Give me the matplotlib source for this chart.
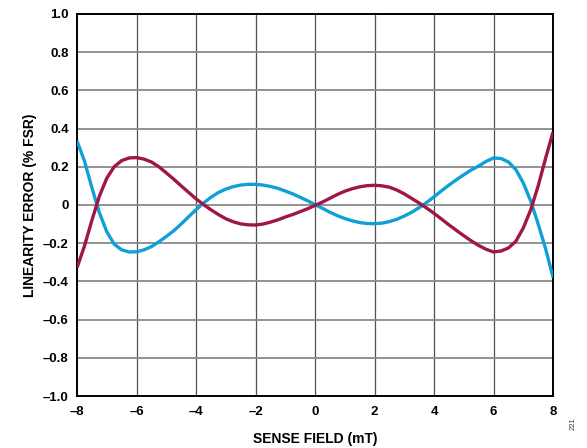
import matplotlib
matplotlib.use("Agg")
import matplotlib.pyplot as plt

plt.rcParams['font.family'] = ['Liberation Sans', 'DejaVu Sans']

# Sense field (mT)
field = [-8.0, -7.75, -7.5, -7.25, -7.0, -6.75, -6.5, -6.25, -6.0, -5.75, -5.5, -5.25,
         -5.0, -4.75, -4.5, -4.25, -4.0, -3.75, -3.5, -3.25, -3.0, -2.75, -2.5, -2.25,
         -2.0, -1.75, -1.5, -1.25, -1.0, -0.75, -0.5, -0.25, 0.0, 0.25, 0.5, 0.75,
         1.0, 1.25, 1.5, 1.75, 2.0, 2.25, 2.5, 2.75, 3.0, 3.25, 3.5, 3.75,
         4.0, 4.25, 4.5, 4.75, 5.0, 5.25, 5.5, 5.75, 6.0, 6.25, 6.5, 6.75,
         7.0, 7.25, 7.5, 7.75, 8.0]

# Linearity error, blue curve (% FSR)
blue_err = [0.335, 0.23, 0.09, -0.04, -0.14, -0.205, -0.235, -0.246, -0.245, -0.235, -0.218, -0.193,
            -0.165, -0.135, -0.1, -0.062, -0.025, 0.01, 0.04, 0.065, 0.083, 0.096, 0.104, 0.108,
            0.108, 0.104, 0.097, 0.087, 0.073, 0.058, 0.04, 0.022, 0.002, -0.018, -0.038, -0.056,
            -0.071, -0.083, -0.092, -0.097, -0.098, -0.095, -0.087, -0.075, -0.058, -0.038, -0.014, 0.013,
            0.043, 0.074, 0.104, 0.132, 0.158, 0.183, 0.204, 0.228, 0.246, 0.243, 0.225, 0.185,
            0.115, 0.02, -0.1, -0.23, -0.38]

# Linearity error, maroon curve (% FSR)
red_err = [-0.328, -0.215, -0.08, 0.045, 0.14, 0.2, 0.232, 0.246, 0.248, 0.24, 0.225, 0.2,
           0.168, 0.135, 0.1, 0.066, 0.032, 0.002, -0.025, -0.05, -0.072, -0.088, -0.099, -0.104,
           -0.105, -0.1, -0.09, -0.078, -0.063, -0.05, -0.035, -0.02, -0.002, 0.015, 0.035, 0.055,
           0.072, 0.085, 0.095, 0.101, 0.103, 0.1, 0.093, 0.078, 0.058, 0.034, 0.01, -0.016,
           -0.044, -0.074, -0.104, -0.133, -0.161, -0.188, -0.212, -0.232, -0.246, -0.241, -0.225, -0.19,
           -0.12, -0.025, 0.1, 0.245, 0.382]

x_ticks = [-8, -6, -4, -2, 0, 2, 4, 6, 8]
x_ticklabels = ['–8', '–6', '–4', '–2', '0', '2', '4', '6', '8']
y_ticks = [1.0, 0.8, 0.6, 0.4, 0.2, 0.0, -0.2, -0.4, -0.6, -0.8, -1.0]
y_ticklabels = ['1.0', '0.8', '0.6', '0.4', '0.2', '0', '–0.2', '–0.4', '–0.6', '–0.8', '–1.0']

fig = plt.figure(figsize=(5.87, 4.48), dpi=100)
ax = fig.add_axes([0.1312, 0.116, 0.811, 0.853])

ax.plot(field, blue_err, color='#0FA0D8', lw=2.4, solid_capstyle='butt',
        solid_joinstyle='round', zorder=3)
ax.plot(field, red_err, color='#A01649', lw=2.4, solid_capstyle='butt',
        solid_joinstyle='round', zorder=3)

ax.set_xlim(-8, 8)
ax.set_ylim(-1.0, 1.0)
ax.set_xticks(x_ticks)
ax.set_xticklabels(x_ticklabels, fontsize=9.5, fontweight='bold')
ax.set_yticks(y_ticks)
ax.set_yticklabels(y_ticklabels, fontsize=9.5, fontweight='bold')
ax.tick_params(axis='both', length=0)
ax.tick_params(axis='x', pad=7)
ax.tick_params(axis='y', pad=6)

for v in x_ticks[1:-1]:
    ax.axvline(v, color='#505050', lw=0.9, zorder=1)
for v in y_ticks[1:-1]:
    ax.axhline(v, color='#8a8a8a', lw=1.3, zorder=1)

for s in ax.spines.values():
    s.set_linewidth(1.4)
    s.set_color('black')

ax.set_xlabel('SENSE FIELD (mT)', fontsize=10, fontweight='bold', labelpad=10)
ax.set_ylabel('LINEARITY ERROR (% FSR)', fontsize=10, fontweight='bold', labelpad=4)

fig.text(0.976, 0.055, '221', rotation=90, fontsize=5.5, color='#333333',
         ha='center', va='center')

fig.savefig('out.png', dpi=100)
